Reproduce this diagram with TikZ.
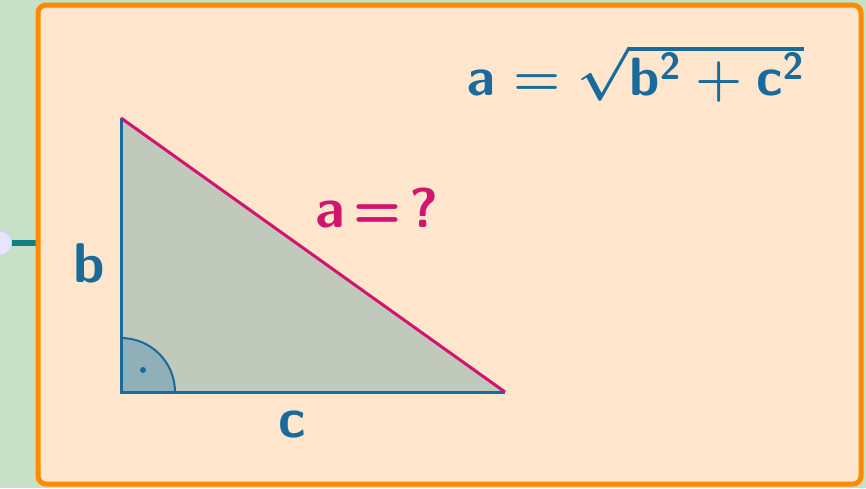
\RequirePackage{fix-cm}
\documentclass[tikz,border=0pt]{standalone}
\usepackage{amsmath}
\definecolor{mapgreen}{HTML}{C7E1C7}
\definecolor{boxfill}{HTML}{FFE6CC}
\definecolor{boxline}{HTML}{FF8A00}
\definecolor{legblue}{HTML}{1A6B9C}
\definecolor{hypred}{HTML}{D2136F}
\definecolor{trifill}{HTML}{C1C8BC}
\definecolor{anglefill}{HTML}{8FB0B8}
\definecolor{linkteal}{HTML}{13807C}
\newcommand{\pythrule}{{\boldmath$\mathsf{a} = \sqrt{\mathsf{b}^{\mathsf{2}} + \mathsf{c}^{\mathsf{2}}}$}}
\begin{document}
\begin{tikzpicture}[
    x=0.5pt, y=-0.5pt,
    every node/.style={font=\fontsize{28}{30}\selectfont\sffamily\bfseries},
    sidelbl/.style={text=legblue, inner sep=0pt}
]
\useasboundingbox (0,0) rectangle (866,488);
\fill[mapgreen] (0,0) rectangle (866,488);
% link to the parent topic
\node[circle, fill=blue!10, draw=blue!20, minimum size=12pt, inner sep=0pt] (knob) at (0,243) {};
\coordinate (boxin) at (38,243);
\draw[linkteal, line width=3pt] (knob.east) -- (boxin);
\draw[boxline, fill=boxfill, line width=2.5pt, rounded corners=4pt] (38,5) rectangle (861,484);
% triangle
\coordinate (B) at (121,118);
\coordinate (C) at (121,392);
\coordinate (A) at (505,392);
\fill[trifill] (B) -- (C) -- (A) -- cycle;
\filldraw[anglefill, draw=legblue, line width=1pt] (C) -- ++(54,0) arc[start angle=0, end angle=-90, radius=54] -- cycle;
\fill[legblue] (143,370) circle (1.5pt);
\draw[legblue, line width=1.5pt] (B) -- (C) -- (A);
\draw[hypred, line width=1.5pt] (B) -- (A);
% labels
\node[sidelbl, anchor=base] (lb) at (89,282) {b};
\node[sidelbl, anchor=base] (lc) at (292,437) {c};
\node[text=hypred, anchor=base, inner sep=0pt] (la) at (377,227) {a\kern4pt=\kern4pt?};
\node[sidelbl, anchor=base, font=\fontsize{27}{29}\selectfont\sffamily\bfseries] (formula) at (636,95) {\pythrule};
\end{tikzpicture}
\end{document}
